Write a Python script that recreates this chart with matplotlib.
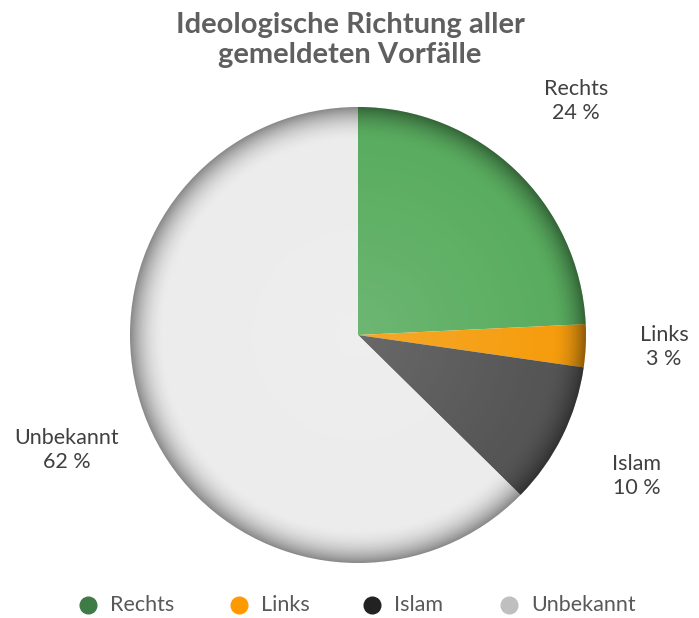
import numpy as np
import matplotlib
matplotlib.use("Agg")
import matplotlib.pyplot as plt
from matplotlib.patches import Circle

categories = ["Rechts", "Links", "Islam", "Unbekannt"]
values = [24, 3, 10, 62]
label_texts = ["Rechts\n24 %", "Links\n3 %", "Islam\n10 %", "Unbekannt\n62 %"]
title = "Ideologische Richtung aller\ngemeldeten Vorfälle"

slice_colors = ["#5aad60", "#f59d0e", "#555555", "#ececec"]
legend_colors = ["#3e7b46", "#ff9900", "#222222", "#bfbfbf"]

W, H = 699, 618
fig = plt.figure(figsize=(W / 100, H / 100), dpi=100)
plt.rcParams['font.family'] = ['Lato', 'DejaVu Sans']

cx, cy, R = 358, 335, 228
ax = fig.add_axes([(cx - R) / W, (H - cy - R) / H, 2 * R / W, 2 * R / H])
ax.set_aspect('equal')
ax.axis('off')

wedges, _ = ax.pie(values, colors=slice_colors, startangle=90, counterclock=False,
                   radius=1, center=(0, 0), wedgeprops=dict(linewidth=0))

# soft bevel shading near the edge
n = 600
xs = np.linspace(-1, 1, n)
X, Y = np.meshgrid(xs, xs)
r = np.sqrt(X ** 2 + Y ** 2)
alpha = 0.42 * np.clip((r - 0.84) / 0.16, 0, 1) ** 2.2
img = np.zeros((n, n, 4))
img[..., 3] = alpha
im = ax.imshow(img, extent=(-1, 1, -1, 1), origin='lower', zorder=5, interpolation='bilinear')
im.set_clip_path(Circle((0, 0), 1, transform=ax.transData))

# light highlight in the centre
alpha2 = 0.12 * np.clip(1 - r / 0.85, 0, 1)
img2 = np.ones((n, n, 4))
img2[..., 3] = alpha2
im2 = ax.imshow(img2, extent=(-1, 1, -1, 1), origin='lower', zorder=6, interpolation='bilinear')
im2.set_clip_path(Circle((0, 0), 1, transform=ax.transData))
ax.set_xlim(-1, 1)
ax.set_ylim(-1, 1)

# title
fig.text(350 / W, 1 - 40 / H, title, ha='center', va='center', fontsize=21,
         fontweight='bold', color='#5f5f5f', linespacing=1.2)

# data labels
label_pos = [(576, 101), (664, 347), (637, 476), (67, 450)]
for txt, (px, py) in zip(label_texts, label_pos):
    fig.text(px / W, 1 - py / H, txt, ha='center', va='center', fontsize=15.5,
             color='#404040', linespacing=1.25)

# legend
leg_x = [88, 239, 372, 509]
leg_y = 605
for cat, col, lx in zip(categories, legend_colors, leg_x):
    fig.lines.append(plt.Line2D([lx / W], [1 - leg_y / H], marker='o', markersize=12,
                                color=col, transform=fig.transFigure, linestyle='none'))
    fig.text((lx + 22) / W, 1 - leg_y / H, cat, ha='left', va='center', fontsize=15.5,
             color='#595959')

fig.savefig("out.png", dpi=100)
